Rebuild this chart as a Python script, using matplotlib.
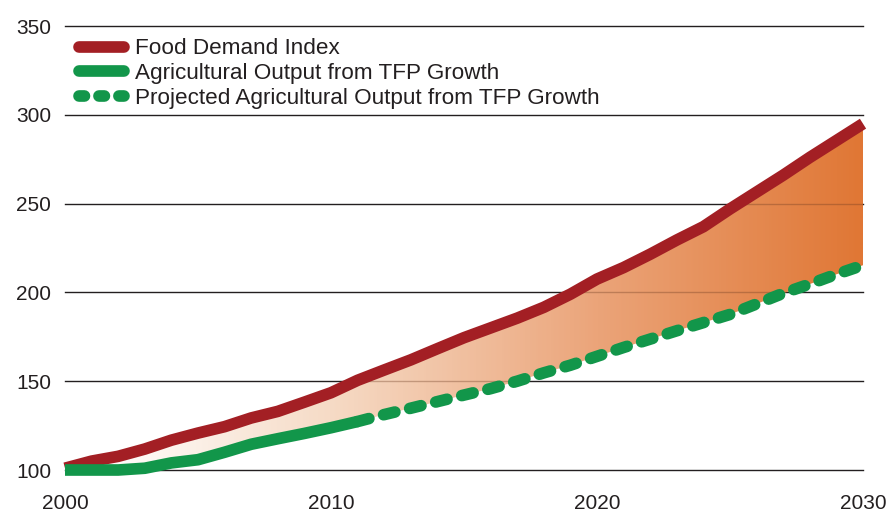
import numpy as np
import matplotlib
matplotlib.use('Agg')
import matplotlib.pyplot as plt
from matplotlib.colors import LinearSegmentedColormap

plt.rcParams['font.family'] = ['Liberation Sans', 'DejaVu Sans']

years = np.arange(2000, 2031)
food_demand = [101, 105, 107.7, 111.8, 116.8, 120.8, 124.4, 129.3, 133, 138.2,
               143.5, 150.5, 156.3, 162, 168.3, 174.5, 180, 185.5, 191.6, 199,
               207.5, 214, 221.5, 229.5, 237, 247, 256.5, 266, 276, 285.5, 295]
ag_years = np.arange(2000, 2012)
ag_output = [100, 100, 100, 101, 104, 105.8, 110, 114.5, 117.6, 120.6, 123.8, 127.3]
proj_years = np.arange(2011, 2031)
ag_projected = [127.3, 131.2, 134.8, 138.5, 142.2, 145.8, 150, 154.7, 159, 164,
                169, 173.7, 178.4, 183, 187.6, 193.5, 199.5, 204.7, 210.2, 215.3]
labels = ['Food Demand Index', 'Agricultural Output from TFP Growth',
          'Projected Agricultural Output from TFP Growth']

red = '#a31f24'
green = '#12964a'
text_col = '#231f20'

fig = plt.figure(figsize=(8.9, 5.13), dpi=100)
ax = fig.add_axes([65/890, 1 - 470/513, 798/890, 444/513])
ax.set_xlim(2000, 2030)
ax.set_ylim(100, 350)

# gridlines
for v in range(100, 351, 50):
    ax.axhline(v, color=text_col, lw=1.0, zorder=0.5, clip_on=False)

# gradient fill between demand and output
green_all = np.interp(years, np.r_[ag_years, proj_years[1:]], np.r_[ag_output, ag_projected[1:]])
poly = ax.fill_between(years, green_all, food_demand, color='none', lw=0)
cmap = LinearSegmentedColormap.from_list('fill', [
    (0.0, '#ffffff'), (0.04, '#ffffff'), (0.33, '#f6dbc6'),
    (0.67, '#eba479'), (1.0, '#e07735')])
grad = np.linspace(0, 1, 400).reshape(1, -1)
img = ax.imshow(grad, cmap=cmap, extent=[2000, 2030, 100, 350], aspect='auto',
                origin='lower', zorder=1)
img.set_clip_path(poly.get_paths()[0], transform=ax.transData)
# faint gridlines through the fill
for v in range(150, 351, 50):
    gl = ax.axhline(v, color='#6b3a20', lw=1.0, alpha=0.35, zorder=1.5)
    gl.set_clip_path(poly.get_paths()[0], transform=ax.transData)

lw = 8.4
ax.plot(years, food_demand, color=red, lw=lw, solid_capstyle='butt',
        solid_joinstyle='round', clip_on=False, zorder=3, label=labels[0])
ax.plot(ag_years, ag_output, color=green, lw=lw, solid_capstyle='butt',
        solid_joinstyle='round', clip_on=False, zorder=4, label=labels[1])
ax.plot(proj_years, ag_projected, color=green, lw=lw, dashes=(1.0, 1.3),
        dash_capstyle='round', clip_on=False, zorder=4, label=labels[2])

leg = ax.legend(loc='upper left', bbox_to_anchor=(0.017, 0.972), frameon=False,
                fontsize=16.2, handlelength=2.0, handletextpad=0.5,
                labelspacing=0.17, borderpad=0, borderaxespad=0)
for line in leg.get_lines():
    line.set_solid_capstyle('round')
    line.set_dash_capstyle('round')
    line.set_linewidth(lw)
leg.get_lines()[2].set_dashes((0.47, 1.24))
for t in leg.get_texts():
    t.set_color(text_col)
leg.set_zorder(5)

ax.set_xticks([2000, 2010, 2020, 2030])
ax.set_yticks(range(100, 351, 50))
ax.tick_params(axis='both', length=0, labelsize=15, labelcolor=text_col)
ax.tick_params(axis='y', pad=10)
ax.tick_params(axis='x', pad=17)
for s in ax.spines.values():
    s.set_visible(False)

fig.savefig('out.png', dpi=100)
